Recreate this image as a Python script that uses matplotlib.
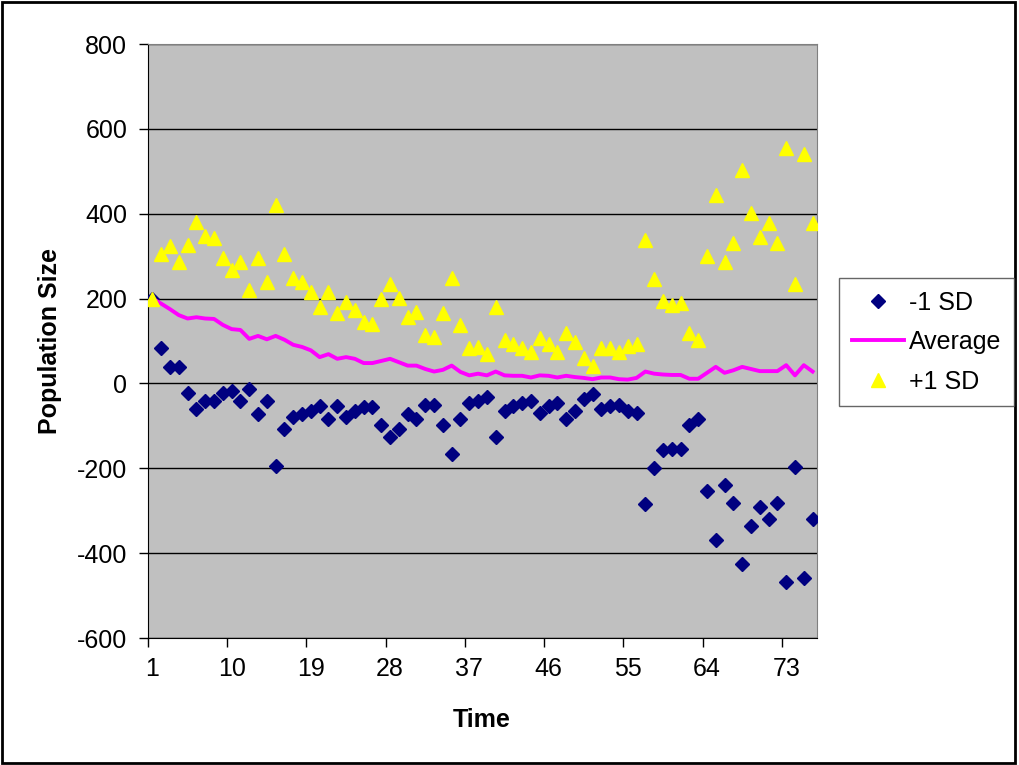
import numpy as np
import matplotlib
matplotlib.use("Agg")
import matplotlib.pyplot as plt
from matplotlib.patches import Rectangle

plt.rcParams['font.family'] = ['Liberation Sans', 'DejaVu Sans']
plt.rcParams['axes.unicode_minus'] = False

# Time steps (categories)
time = np.arange(1, 77)
tick_labels = [1, 10, 19, 28, 37, 46, 55, 64, 73]

# Population size, one standard deviation below the mean
minus_sd = [200, 83, 38, 38, -23, -60, -42, -42, -23, -19,
            -42, -14, -73, -42, -194, -107, -79, -72, -66, -54,
            -84, -54, -79, -66, -55, -55, -97, -126, -107, -73,
            -84, -50, -50, -97, -166, -84, -46, -42, -32, -126,
            -66, -54, -46, -42, -70, -54, -46, -84, -66, -37,
            -24, -60, -54, -50, -66, -70, -283, -199, -157, -155,
            -154, -97, -83, -253, -370, -240, -281, -426, -337, -291,
            -319, -281, -467, -196, -458, -319]

# Average population size
average = [200, 188, 175, 161, 153, 156, 153, 152, 138, 128,
           126, 105, 112, 104, 112, 103, 91, 86, 78, 62,
           69, 58, 62, 58, 48, 48, 53, 58, 50, 42,
           42, 34, 28, 32, 42, 27, 19, 23, 19, 28,
           19, 18, 18, 14, 19, 18, 14, 18, 15, 13,
           10, 14, 14, 10, 9, 13, 28, 23, 21, 20,
           20, 11, 11, 25, 39, 25, 31, 39, 34, 29,
           29, 29, 43, 19, 43, 28]

# Population size, one standard deviation above the mean
plus_sd = [200, 304, 323, 286, 327, 380, 347, 342, 296, 268,
           286, 221, 295, 239, 421, 304, 249, 239, 216, 181,
           216, 165, 192, 173, 145, 141, 198, 234, 202, 156,
           169, 114, 110, 165, 248, 138, 83, 85, 69, 181,
           102, 92, 83, 73, 106, 92, 73, 120, 97, 60,
           42, 83, 83, 73, 88, 92, 338, 245, 194, 186,
           190, 120, 102, 300, 443, 286, 332, 504, 402, 346,
           379, 332, 555, 235, 541, 377]

fig = plt.figure(figsize=(10.19, 7.65), dpi=100)
ax = fig.add_axes([148 / 1019, 1 - 638 / 765, 669 / 1019, 594 / 765])
ax.set_facecolor('#C0C0C0')

# Series, drawn in the same order as the legend
ax.plot(time, minus_sd, linestyle='none', marker='D', markersize=7.5,
        color='#000080', label='-1 SD', zorder=3)
ax.plot(time, average, color='#FF00FF', linewidth=2.8, label='Average', zorder=4)
ax.plot(time, plus_sd, linestyle='none', marker='^', markersize=10.5,
        color='#FFFF00', label='+1 SD', zorder=5)

# Axes limits and ticks
ax.set_xlim(0.5, 76.5)
ax.set_ylim(-600, 800)
ax.set_yticks(np.arange(-600, 801, 200))
ax.set_xticks(tick_labels)
ax.set_xticks(np.arange(0.5, 76, 9), minor=True)
ax.tick_params(axis='x', which='major', length=0, pad=14, labelsize=18)
ax.tick_params(axis='x', which='minor', length=6.5, width=1, direction='out')
ax.tick_params(axis='y', length=6.5, width=1, pad=8.5, labelsize=18)

# Horizontal gridlines
ax.grid(axis='y', color='black', linewidth=1)
ax.set_axisbelow(True)

for side in ['top', 'right']:
    ax.spines[side].set_color('#808080')
ax.spines['left'].set_color('black')
ax.spines['bottom'].set_color('black')

# Axis titles
fig.text(50 / 1019, 1 - 341 / 765, 'Population Size', rotation=90,
         ha='center', va='center', fontsize=18, fontweight='bold')
fig.text(482 / 1019, 1 - 720 / 765, 'Time', ha='center', va='center',
         fontsize=18, fontweight='bold')

# Legend on the right
leg = fig.legend(loc='upper left', bbox_to_anchor=(839 / 1019, 1 - 278 / 765),
                 fontsize=18, frameon=True, fancybox=False, borderaxespad=0,
                 handlelength=2.1, handletextpad=0.2, labelspacing=0.62,
                 borderpad=0.5)
leg.get_frame().set_edgecolor('#404040')
leg.get_frame().set_linewidth(1)

# Black frame around the whole chart
fig.patches.append(Rectangle((0.002, 0.003), 0.994, 0.994, transform=fig.transFigure,
                             fill=False, edgecolor='black', linewidth=2))

plt.savefig('out.png', dpi=100)
